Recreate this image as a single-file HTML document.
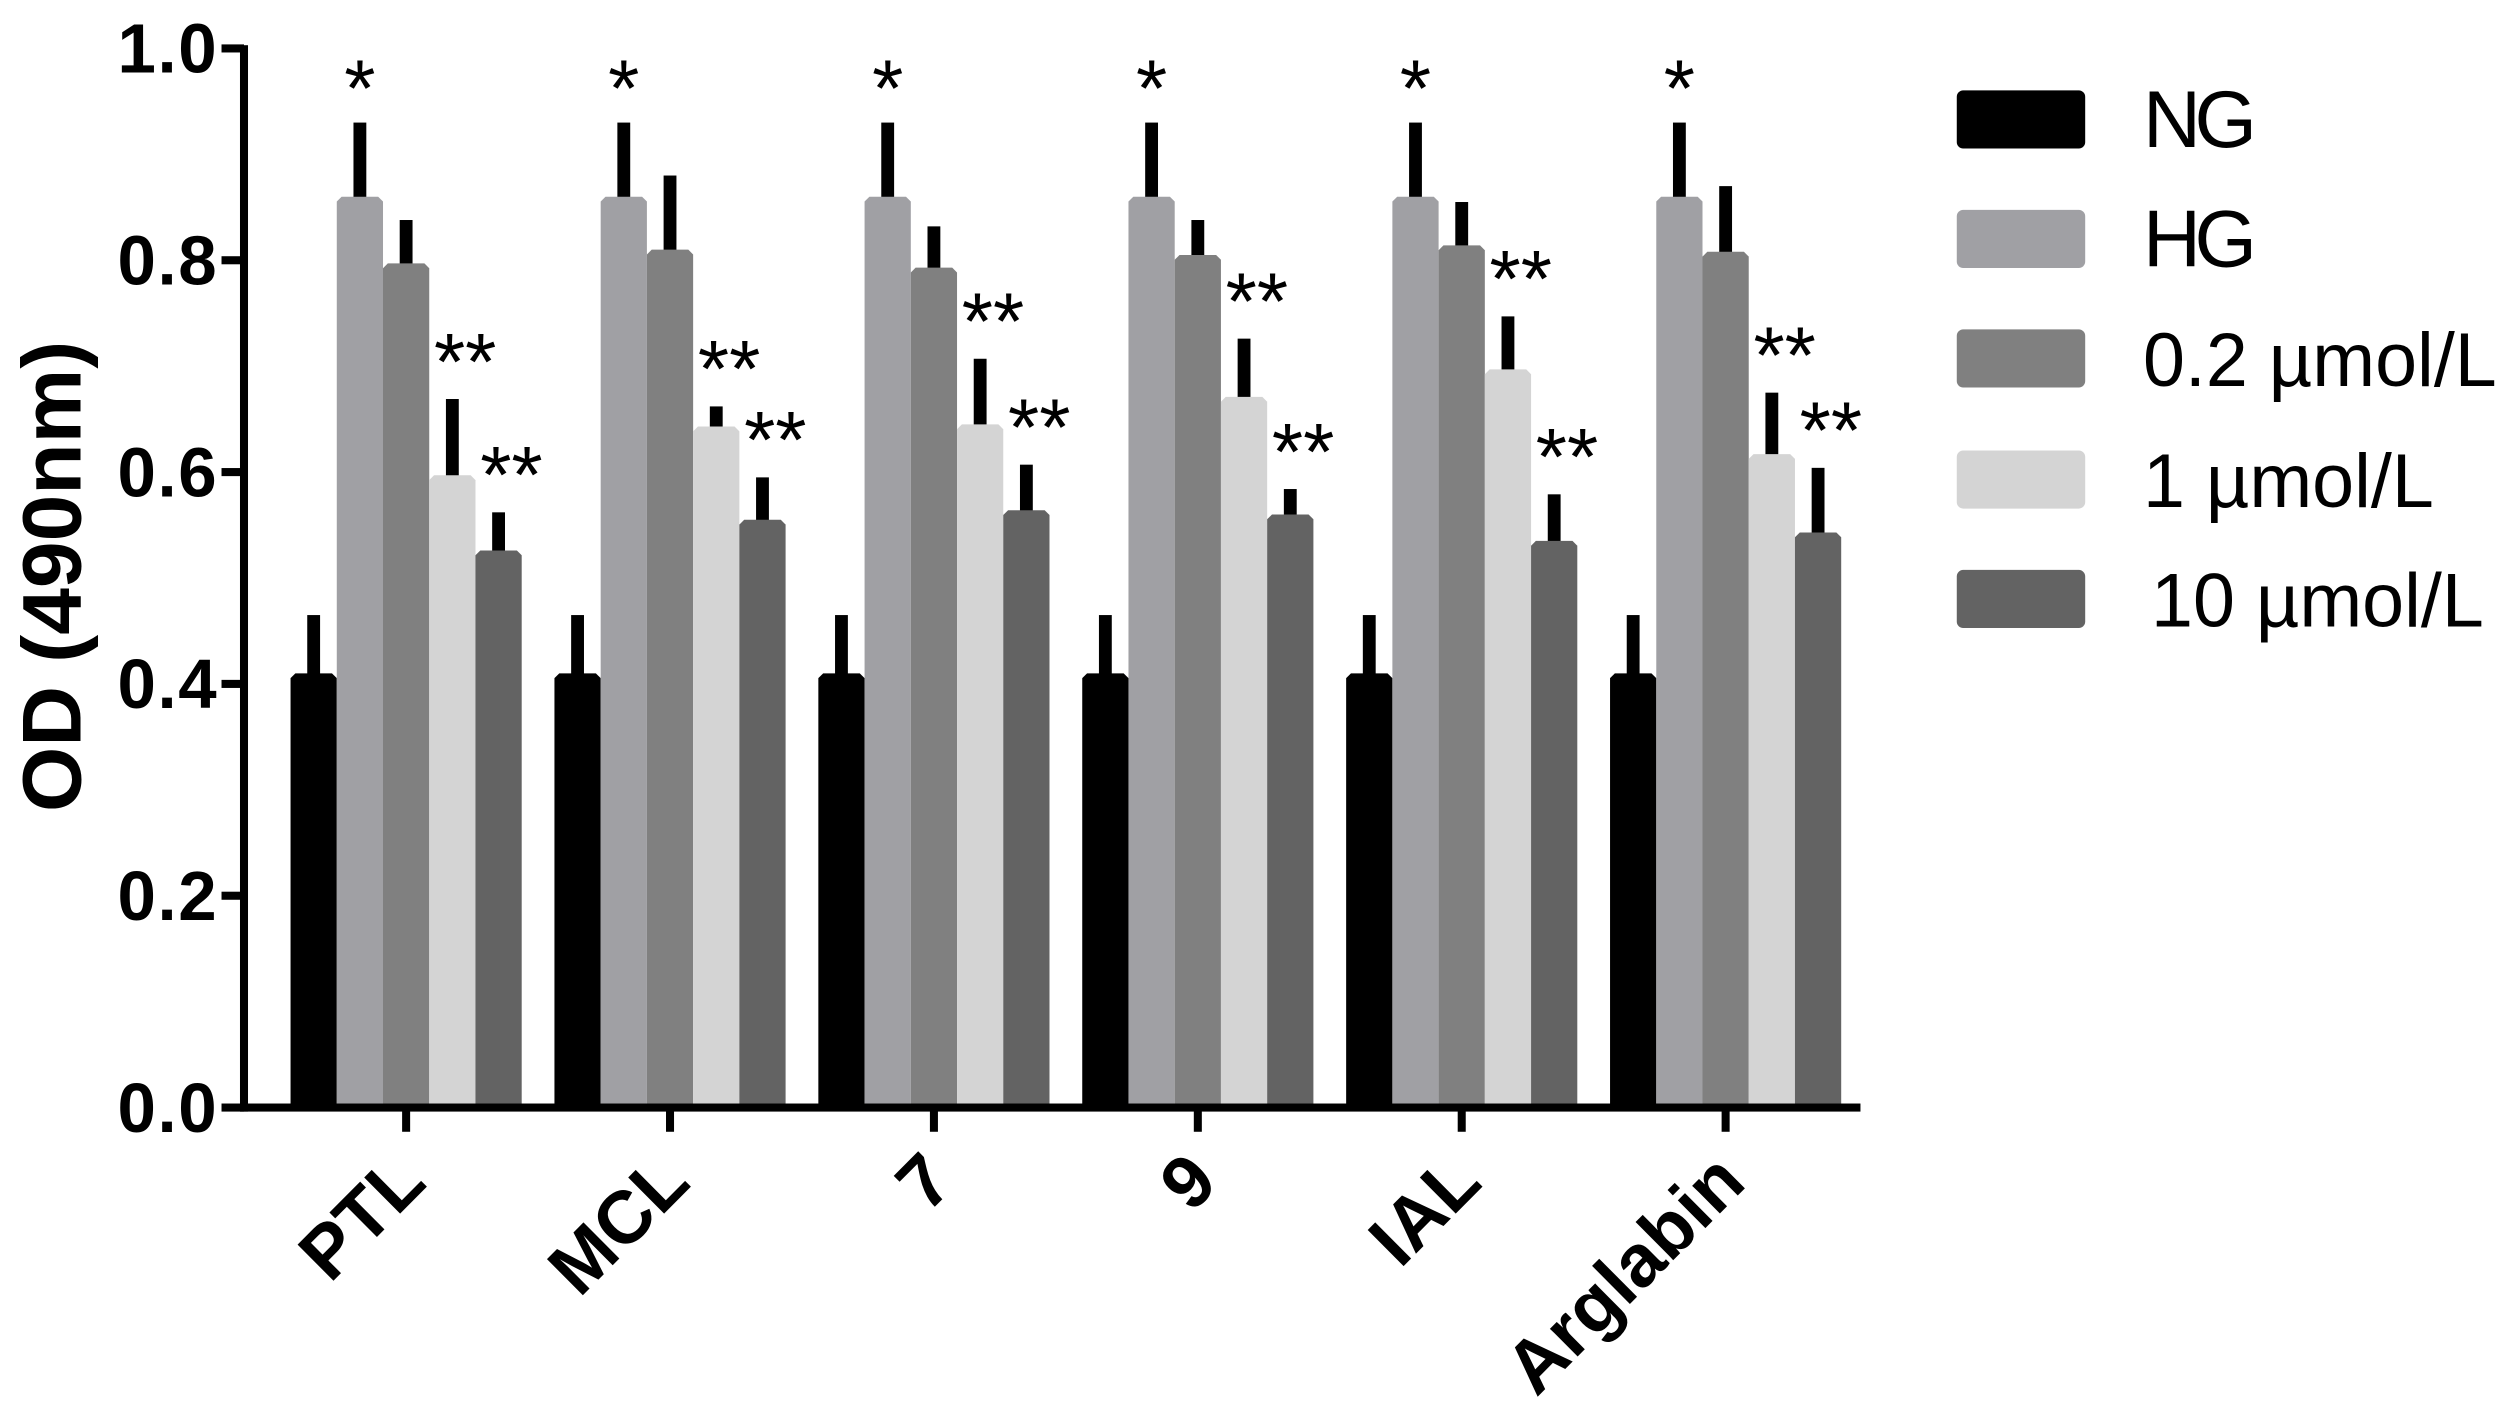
<!DOCTYPE html>
<html><head><meta charset="utf-8"><style>
html,body{margin:0;padding:0;background:#fff;}
svg{display:block;}
</style></head><body>
<svg id="chart" width="2517" height="1424" viewBox="0 0 1568 882" preserveAspectRatio="none" xmlns="http://www.w3.org/2000/svg"></svg>
<script>
const categories = ["PTL","MCL","7","9","IAL","Arglabin"];
const seriesNames = ["NG","HG","0.2 µmol/L","1 µmol/L","10 µmol/L"];
const ngValues  = [0.41,0.41,0.41,0.41,0.41,0.41];
const hgValues  = [0.86,0.86,0.86,0.86,0.86,0.86];
const c02Values = [0.797,0.81,0.793,0.805,0.814,0.808];
const c1Values  = [0.597,0.643,0.645,0.671,0.697,0.617];
const c10Values = [0.526,0.555,0.564,0.56,0.535,0.543];
const ngErr  = [0.465,0.465,0.465,0.465,0.465,0.465];
const hgErr  = [0.93,0.93,0.93,0.93,0.93,0.93];
const c02Err = [0.838,0.88,0.832,0.838,0.855,0.87];
const c1Err  = [0.669,0.662,0.707,0.726,0.747,0.675];
const c10Err = [0.562,0.595,0.607,0.584,0.579,0.604];
const hgSig  = ["*","*","*","*","*","*"];
const c1Sig  = ["**","**","**","**","**","**"];
const c10Sig = ["**","**","**","**","**","**"];
const yTicks = [0.0,0.2,0.4,0.6,0.8,1.0];
const yTickLabels = ["0.0","0.2","0.4","0.6","0.8","1.0"];

const colors = ["#000000","#a0a0a4","#808080","#d4d4d4","#636363"];
const svg = document.getElementById('chart');
const NS = "http://www.w3.org/2000/svg";
const y0 = 686, yTop = 30;
function yScale(v){ return y0 - (v/1.0)*(y0-yTop); }
const groupStart = 181, groupPitch = 164.4, barW = 28.8;
function xBar(g,s){ return groupStart + g*groupPitch + s*barW; }
function xCenter(g){ return groupStart + g*groupPitch + 2.5*barW; }
function mk(tag, attrs){ const e=document.createElementNS(NS,tag); for(const k in attrs) e.setAttribute(k,attrs[k]); svg.appendChild(e); return e; }

const values=[ngValues,hgValues,c02Values,c1Values,c10Values];
const errs=[ngErr,hgErr,c02Err,c1Err,c10Err];
const sigs=[null,hgSig,null,c1Sig,c10Sig];

for(let g=0; g<categories.length; g++){
  for(let s=0; s<5; s++){
    const x=xBar(g,s), v=values[s][g], e=errs[s][g];
    const err=mk('rect',{x:x+barW/2-4,y:yScale(e),width:8,height:yScale(v)-yScale(e)+2,fill:'#000'});
    
    
    const b=mk('path',{d:`M${x},${y0} L${x},${yScale(v)+3} L${x+3},${yScale(v)} L${x+barW-3},${yScale(v)} L${x+barW},${yScale(v)+3} L${x+barW},${y0} Z`,fill:colors[s]});
    
    
    if(sigs[s] && sigs[s][g]){
      const t=mk('text',{x:x+barW/2+(s===1?0:8),y:yScale(e)-(s===1?4:6),'text-anchor':'middle','font-family':'Liberation Sans, sans-serif','font-size':50,fill:'#000'});
      t.textContent=sigs[s][g];
      
      
    }
  }
  const tk=mk('rect',{x:xCenter(g)-2.5,y:y0,width:5,height:15,fill:'#000'});
  
  
  const cx=xCenter(g)+14, cy=y0+48;
  const lab=mk('text',{x:cx,y:cy,'text-anchor':'end','font-family':'Liberation Sans, sans-serif','font-weight':'bold','font-size':46,fill:'#000',transform:`rotate(-45 ${cx} ${cy})`});
  lab.textContent=categories[g];
  
  
}
// axes
const ya=mk('rect',{x:149.5,y:yTop-2,width:5,height:y0-yTop+4.5,fill:'#000'});


const xa=mk('rect',{x:149.5,y:y0-2.5,width:1159-149.5,height:5,fill:'#000'});


for(let i=0;i<yTicks.length;i++){
  const yy=yScale(yTicks[i]);
  const t=mk('rect',{x:138,y:yy-2.5,width:14,height:5,fill:'#000'});
  
  
  const l=mk('text',{x:136,y:yy+15,'text-anchor':'end','font-family':'Liberation Sans, sans-serif','font-weight':'bold','font-size':43,'letter-spacing':1,fill:'#000'});
  l.textContent=yTickLabels[i];
  
  
}
const yt=mk('text',{x:0,y:0,'text-anchor':'middle','font-family':'Liberation Sans, sans-serif','font-weight':'bold','font-size':52,fill:'#000',transform:'translate(50 357) rotate(-90)'});
yt.textContent="OD (490nm)";


// legend
const legY=[74,148,222,297,371];
for(let s=0;s<5;s++){
  const y=legY[s];
  const r=mk('rect',{x:1219,y:y-18,width:80,height:36,rx:4,fill:colors[s]});
  
  
  const t=mk('text',{x:s===4?1340:1335,y:y+17,'font-family':'Liberation Sans, sans-serif','font-size':s<2?50:47,fill:'#000','letter-spacing':s<2?-4:0});
  t.textContent=seriesNames[s];
  
  
}
</script>
</body></html>
